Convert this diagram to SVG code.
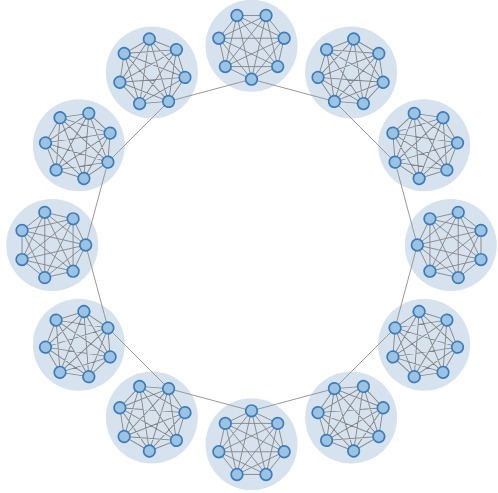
<svg xmlns="http://www.w3.org/2000/svg" xmlns:xlink="http://www.w3.org/1999/xlink" width="498" height="493" viewBox="0 0 498 493">
<style>
.bg{fill:#d6e2ee}
.e{fill:none;stroke:#858585;stroke-width:0.9;stroke-linejoin:round}
.n{fill:#9dc3e2;stroke:#3b7cbd;stroke-width:1.7}
.br{stroke:#999;stroke-width:1;fill:none}
</style>
<defs>
<path id="k7e" class="e" d="M33.5,0 L20.89,26.19 L-7.45,32.66 L-30.18,14.54 L-30.18,-14.54 L-7.45,-32.66 L20.89,-26.19 Z M33.5,0 L-7.45,32.66 L-30.18,-14.54 L20.89,-26.19 L20.89,26.19 L-30.18,14.54 L-7.45,-32.66 Z M33.5,0 L-30.18,14.54 L20.89,-26.19 L-7.45,32.66 L-7.45,-32.66 L20.89,26.19 L-30.18,-14.54 Z"/>
<g id="k7n">
<circle class="n" cx="33.5" cy="0" r="5.8"/>
<circle class="n" cx="20.89" cy="26.19" r="5.8"/>
<circle class="n" cx="-7.45" cy="32.66" r="5.8"/>
<circle class="n" cx="-30.18" cy="14.54" r="5.8"/>
<circle class="n" cx="-30.18" cy="-14.54" r="5.8"/>
<circle class="n" cx="-7.45" cy="-32.66" r="5.8"/>
<circle class="n" cx="20.89" cy="-26.19" r="5.8"/>
</g>
</defs>
<g id="backgrounds">
<circle class="bg" cx="251.5" cy="45.7" r="46"/>
<circle class="bg" cx="351.15" cy="72.4" r="46"/>
<circle class="bg" cx="424.1" cy="145.35" r="46"/>
<circle class="bg" cx="450.8" cy="245" r="46"/>
<circle class="bg" cx="424.1" cy="344.65" r="46"/>
<circle class="bg" cx="351.15" cy="417.6" r="46"/>
<circle class="bg" cx="251.5" cy="444.3" r="46"/>
<circle class="bg" cx="151.85" cy="417.6" r="46"/>
<circle class="bg" cx="78.9" cy="344.65" r="46"/>
<circle class="bg" cx="52.2" cy="245" r="46"/>
<circle class="bg" cx="78.9" cy="145.35" r="46"/>
<circle class="bg" cx="151.85" cy="72.4" r="46"/>
</g>
<g id="connectors">
<path class="br" d="M251.5,79.2 L334.4,101.41 L395.09,162.1 L417.3,245 L395.09,327.9 L334.4,388.59 L251.5,410.8 L168.6,388.59 L107.91,327.9 L85.7,245 L107.91,162.1 L168.6,101.41 Z"/>
</g>
<g id="clique1" transform="translate(251.5,45.7) rotate(90)"><use xlink:href="#k7e"/><use xlink:href="#k7n"/></g>
<g id="clique2" transform="translate(351.15,72.4) rotate(120)"><use xlink:href="#k7e"/><use xlink:href="#k7n"/></g>
<g id="clique3" transform="translate(424.1,145.35) rotate(150)"><use xlink:href="#k7e"/><use xlink:href="#k7n"/></g>
<g id="clique4" transform="translate(450.8,245) rotate(180)"><use xlink:href="#k7e"/><use xlink:href="#k7n"/></g>
<g id="clique5" transform="translate(424.1,344.65) rotate(210)"><use xlink:href="#k7e"/><use xlink:href="#k7n"/></g>
<g id="clique6" transform="translate(351.15,417.6) rotate(240)"><use xlink:href="#k7e"/><use xlink:href="#k7n"/></g>
<g id="clique7" transform="translate(251.5,444.3) rotate(270)"><use xlink:href="#k7e"/><use xlink:href="#k7n"/></g>
<g id="clique8" transform="translate(151.85,417.6) rotate(300)"><use xlink:href="#k7e"/><use xlink:href="#k7n"/></g>
<g id="clique9" transform="translate(78.9,344.65) rotate(330)"><use xlink:href="#k7e"/><use xlink:href="#k7n"/></g>
<g id="clique10" transform="translate(52.2,245) rotate(0)"><use xlink:href="#k7e"/><use xlink:href="#k7n"/></g>
<g id="clique11" transform="translate(78.9,145.35) rotate(30)"><use xlink:href="#k7e"/><use xlink:href="#k7n"/></g>
<g id="clique12" transform="translate(151.85,72.4) rotate(60)"><use xlink:href="#k7e"/><use xlink:href="#k7n"/></g>
</svg>
